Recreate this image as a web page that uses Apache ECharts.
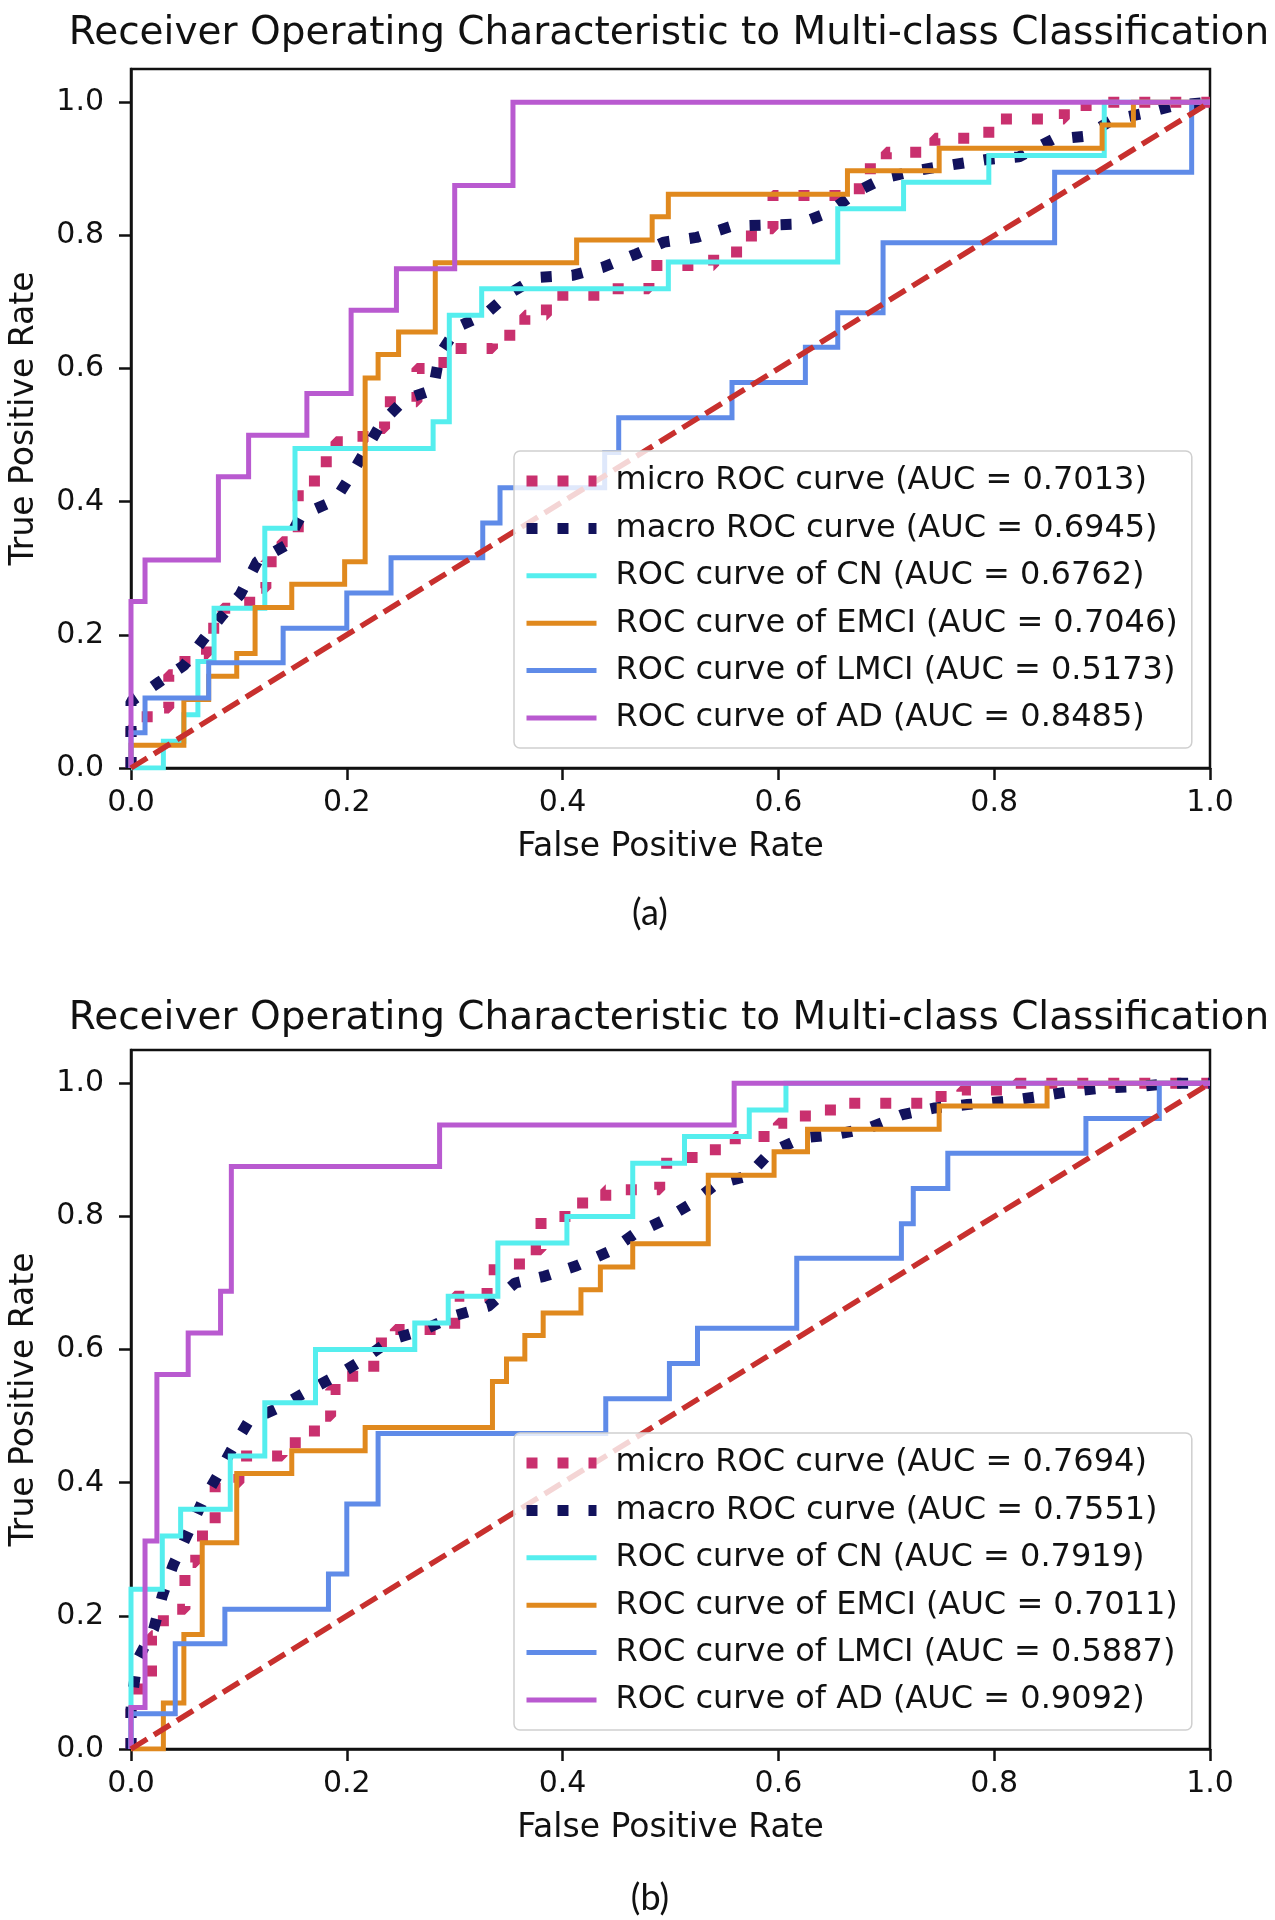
<!DOCTYPE html>
<html><head><meta charset="utf-8">
<script src="https://cdn.jsdelivr.net/npm/echarts@6/dist/echarts.min.js"></script>
<style>html,body{margin:0;padding:0;background:#fff}#c{width:1275px;height:1920px}</style>
</head><body><div id="c"></div>
<script>
// ---------- text ----------
const titleText = 'Receiver Operating Characteristic to Multi-class Classification';
const captions = ['(a)', '(b)'];
const xAxisName = 'False Positive Rate';
const yAxisName = 'True Positive Rate';
const tickValues = [0, 0.2, 0.4, 0.6, 0.8, 1.0];

// ---------- chart (a) ----------
const namesA = [
  'micro ROC curve (AUC = 0.7013)',
  'macro ROC curve (AUC = 0.6945)',
  'ROC curve of CN (AUC = 0.6762)',
  'ROC curve of EMCI (AUC = 0.7046)',
  'ROC curve of LMCI (AUC = 0.5173)',
  'ROC curve of AD (AUC = 0.8485)'
];
const microA = [[0,0],[0,0.06],[0.015,0.06],[0.015,0.09],[0.035,0.09],[0.035,0.14],[0.05,0.14],[0.05,0.17],[0.07,0.17],[0.07,0.21],[0.085,0.21],[0.085,0.24],[0.11,0.24],[0.11,0.27],[0.125,0.27],[0.125,0.31],[0.14,0.31],[0.14,0.34],[0.155,0.34],[0.155,0.42],[0.17,0.42],[0.17,0.46],[0.19,0.46],[0.19,0.49],[0.215,0.49],[0.215,0.51],[0.235,0.51],[0.235,0.55],[0.265,0.55],[0.265,0.6],[0.29,0.6],[0.29,0.63],[0.335,0.63],[0.335,0.65],[0.365,0.65],[0.365,0.68],[0.385,0.68],[0.385,0.71],[0.44,0.71],[0.44,0.72],[0.48,0.72],[0.48,0.755],[0.54,0.755],[0.54,0.775],[0.575,0.775],[0.575,0.81],[0.595,0.81],[0.595,0.86],[0.675,0.86],[0.675,0.9],[0.7,0.9],[0.7,0.925],[0.745,0.925],[0.745,0.946],[0.795,0.946],[0.795,0.975],[0.865,0.975],[0.865,0.995],[0.9,0.995],[0.9,1],[1,1]];
const macroA = [[0,0],[0,0.1],[0.026,0.129],[0.049,0.154],[0.067,0.193],[0.085,0.23],[0.101,0.26],[0.117,0.31],[0.143,0.334],[0.158,0.38],[0.189,0.402],[0.204,0.44],[0.232,0.518],[0.254,0.554],[0.28,0.568],[0.286,0.621],[0.303,0.663],[0.328,0.681],[0.35,0.712],[0.376,0.737],[0.409,0.74],[0.437,0.752],[0.468,0.772],[0.494,0.79],[0.524,0.797],[0.557,0.814],[0.618,0.817],[0.646,0.834],[0.673,0.866],[0.699,0.887],[0.73,0.898],[0.76,0.906],[0.793,0.914],[0.823,0.918],[0.854,0.944],[0.884,0.949],[0.91,0.974],[0.941,0.984],[0.969,0.996],[1,1]];
const cnA = [[0,0],[0.03,0],[0.03,0.04],[0.049,0.04],[0.049,0.08],[0.062,0.08],[0.062,0.16],[0.077,0.16],[0.077,0.24],[0.124,0.24],[0.124,0.36],[0.152,0.36],[0.152,0.48],[0.28,0.48],[0.28,0.52],[0.295,0.52],[0.295,0.68],[0.325,0.68],[0.325,0.72],[0.498,0.72],[0.498,0.76],[0.655,0.76],[0.655,0.84],[0.716,0.84],[0.716,0.88],[0.795,0.88],[0.795,0.92],[0.902,0.92],[0.902,1],[1,1]];
const emciA = [[0,0],[0,0.034],[0.049,0.034],[0.049,0.103],[0.072,0.103],[0.072,0.138],[0.098,0.138],[0.098,0.172],[0.115,0.172],[0.115,0.241],[0.149,0.241],[0.149,0.276],[0.198,0.276],[0.198,0.31],[0.217,0.31],[0.217,0.586],[0.229,0.586],[0.229,0.621],[0.248,0.621],[0.248,0.655],[0.282,0.655],[0.282,0.759],[0.413,0.759],[0.413,0.793],[0.483,0.793],[0.483,0.828],[0.498,0.828],[0.498,0.862],[0.664,0.862],[0.664,0.897],[0.749,0.897],[0.749,0.931],[0.9,0.931],[0.9,0.966],[0.929,0.966],[0.929,1],[1,1]];
const lmciA = [[0,0],[0,0.053],[0.013,0.053],[0.013,0.105],[0.072,0.105],[0.072,0.158],[0.141,0.158],[0.141,0.21],[0.2,0.21],[0.2,0.263],[0.241,0.263],[0.241,0.316],[0.326,0.316],[0.326,0.368],[0.342,0.368],[0.342,0.421],[0.439,0.421],[0.439,0.474],[0.452,0.474],[0.452,0.526],[0.557,0.526],[0.557,0.579],[0.625,0.579],[0.625,0.632],[0.655,0.632],[0.655,0.684],[0.697,0.684],[0.697,0.789],[0.856,0.789],[0.856,0.895],[0.983,0.895],[0.983,1],[1,1]];
const adA = [[0,0],[0,0.25],[0.013,0.25],[0.013,0.3125],[0.081,0.3125],[0.081,0.4375],[0.109,0.4375],[0.109,0.5],[0.163,0.5],[0.163,0.5625],[0.204,0.5625],[0.204,0.6875],[0.246,0.6875],[0.246,0.75],[0.3,0.75],[0.3,0.875],[0.354,0.875],[0.354,1],[1,1]];

// ---------- chart (b) ----------
const namesB = [
  'micro ROC curve (AUC = 0.7694)',
  'macro ROC curve (AUC = 0.7551)',
  'ROC curve of CN (AUC = 0.7919)',
  'ROC curve of EMCI (AUC = 0.7011)',
  'ROC curve of LMCI (AUC = 0.5887)',
  'ROC curve of AD (AUC = 0.9092)'
];
const microB = [[0,0],[0,0.06],[0.007,0.06],[0.007,0.1],[0.019,0.1],[0.019,0.17],[0.03,0.17],[0.03,0.21],[0.05,0.21],[0.05,0.28],[0.06,0.28],[0.06,0.32],[0.078,0.32],[0.078,0.4],[0.1,0.4],[0.1,0.44],[0.14,0.44],[0.14,0.46],[0.17,0.46],[0.17,0.5],[0.185,0.5],[0.185,0.54],[0.2,0.54],[0.2,0.56],[0.225,0.56],[0.225,0.61],[0.245,0.61],[0.245,0.63],[0.3,0.63],[0.3,0.68],[0.33,0.68],[0.33,0.72],[0.36,0.72],[0.36,0.75],[0.38,0.75],[0.38,0.8],[0.41,0.8],[0.41,0.82],[0.44,0.82],[0.44,0.84],[0.49,0.84],[0.49,0.88],[0.52,0.88],[0.52,0.9],[0.56,0.9],[0.56,0.92],[0.6,0.92],[0.6,0.94],[0.625,0.94],[0.625,0.96],[0.66,0.96],[0.66,0.97],[0.74,0.97],[0.74,0.98],[0.77,0.98],[0.77,0.99],[0.82,0.99],[0.82,1],[1,1]];
const macroB = [[0,0],[0,0.06],[0.002,0.088],[0.006,0.134],[0.021,0.18],[0.029,0.23],[0.039,0.276],[0.053,0.325],[0.066,0.371],[0.08,0.41],[0.093,0.449],[0.109,0.492],[0.137,0.513],[0.163,0.537],[0.192,0.562],[0.217,0.587],[0.241,0.615],[0.272,0.63],[0.3,0.651],[0.331,0.665],[0.356,0.7],[0.383,0.71],[0.413,0.726],[0.444,0.748],[0.466,0.773],[0.492,0.793],[0.518,0.818],[0.542,0.848],[0.572,0.861],[0.592,0.896],[0.622,0.918],[0.653,0.923],[0.684,0.933],[0.715,0.953],[0.745,0.963],[0.775,0.968],[0.81,0.973],[0.841,0.98],[0.872,0.988],[0.902,0.993],[0.932,0.995],[0.965,1],[1,1]];
const cnB = [[0,0],[0,0.24],[0.029,0.24],[0.029,0.32],[0.046,0.32],[0.046,0.36],[0.092,0.36],[0.092,0.44],[0.124,0.44],[0.124,0.52],[0.171,0.52],[0.171,0.6],[0.263,0.6],[0.263,0.64],[0.294,0.64],[0.294,0.68],[0.34,0.68],[0.34,0.76],[0.404,0.76],[0.404,0.8],[0.465,0.8],[0.465,0.88],[0.513,0.88],[0.513,0.92],[0.573,0.92],[0.573,0.96],[0.607,0.96],[0.607,1],[1,1]];
const emciB = [[0,0],[0.03,0],[0.03,0.069],[0.049,0.069],[0.049,0.172],[0.066,0.172],[0.066,0.31],[0.098,0.31],[0.098,0.414],[0.149,0.414],[0.149,0.448],[0.217,0.448],[0.217,0.483],[0.335,0.483],[0.335,0.552],[0.348,0.552],[0.348,0.586],[0.365,0.586],[0.365,0.621],[0.382,0.621],[0.382,0.655],[0.417,0.655],[0.417,0.69],[0.435,0.69],[0.435,0.724],[0.465,0.724],[0.465,0.759],[0.535,0.759],[0.535,0.862],[0.596,0.862],[0.596,0.897],[0.627,0.897],[0.627,0.931],[0.749,0.931],[0.749,0.966],[0.849,0.966],[0.849,1],[1,1]];
const lmciB = [[0,0],[0,0.053],[0.041,0.053],[0.041,0.158],[0.087,0.158],[0.087,0.21],[0.183,0.21],[0.183,0.263],[0.2,0.263],[0.2,0.368],[0.229,0.368],[0.229,0.474],[0.44,0.474],[0.44,0.526],[0.499,0.526],[0.499,0.579],[0.525,0.579],[0.525,0.632],[0.617,0.632],[0.617,0.737],[0.714,0.737],[0.714,0.789],[0.725,0.789],[0.725,0.842],[0.757,0.842],[0.757,0.895],[0.885,0.895],[0.885,0.947],[0.953,0.947],[0.953,1],[1,1]];
const adB = [[0,0],[0,0.0625],[0.013,0.0625],[0.013,0.3125],[0.024,0.3125],[0.024,0.5625],[0.053,0.5625],[0.053,0.625],[0.083,0.625],[0.083,0.6875],[0.093,0.6875],[0.093,0.875],[0.286,0.875],[0.286,0.9375],[0.559,0.9375],[0.559,1],[1,1]];

const chance = [[0,0],[1,1]];

// ---------- styles ----------
const colors = ['#C9306E', '#12125C', '#55EEEE', '#E0891E', '#5F8BE8', '#B95AD0'];
const chanceColor = '#C8302E';
const FONT = 'DejaVu Sans';
const ink = '#111111';

const grids = [
  {left: 129, right: 65, top: 69, height: 699},
  {left: 129, right: 65, top: 1050, height: 699}
];

function lineSeries(name, data, idx, k) {
  const dotted = k < 2;
  return {
    type: 'line', name: name, data: data, xAxisIndex: idx, yAxisIndex: idx,
    symbol: 'none', showSymbol: false, smooth: false, animation: false,
    lineStyle: dotted
      ? {color: colors[k], width: 11, type: [11, 20], cap: 'butt'}
      : {color: colors[k], width: 5, type: 'solid', cap: 'butt', join: 'miter'},
    itemStyle: {color: colors[k]},
    emphasis: {disabled: true},
    z: 2
  };
}

const series = [];
[[namesA, [microA, macroA, cnA, emciA, lmciA, adA]], [namesB, [microB, macroB, cnB, emciB, lmciB, adB]]]
  .forEach(([names, sets], idx) => {
    sets.forEach((d, k) => series.push(lineSeries(names[k], d, idx, k)));
    series.push({
      type: 'line', name: 'chance ' + idx, data: chance, xAxisIndex: idx, yAxisIndex: idx,
      symbol: 'none', animation: false, emphasis: {disabled: true},
      lineStyle: {color: chanceColor, width: 5.5, type: [19, 8]}, z: 3
    });
  });

function xAxis(idx) {
  return {
    type: 'value', gridIndex: idx, min: 0, max: 1, interval: 0.2,
    name: xAxisName, nameLocation: 'middle', nameGap: 63,
    nameTextStyle: {fontFamily: FONT, fontSize: 33, color: ink},
    axisLine: {show: true, onZero: false, lineStyle: {color: ink, width: 2.5}},
    axisTick: {show: true, length: 12, lineStyle: {color: ink, width: 2.5}, customValues: tickValues},
    axisLabel: {show: true, margin: 20, fontFamily: FONT, fontSize: 30, color: ink,
      customValues: tickValues, formatter: v => Number(v).toFixed(1)},
    splitLine: {show: false}
  };
}
function yAxis(idx) {
  return {
    type: 'value', gridIndex: idx, min: 0, max: 1.05, interval: 0.2,
    name: yAxisName, nameLocation: 'middle', nameGap: 90, nameRotate: 90,
    nameTextStyle: {fontFamily: FONT, fontSize: 33, color: ink},
    axisLine: {show: true, onZero: false, lineStyle: {color: ink, width: 2.5}},
    axisTick: {show: true, length: 12, lineStyle: {color: ink, width: 2.5}, customValues: tickValues},
    axisLabel: {show: true, margin: 27, fontFamily: FONT, fontSize: 30, color: ink,
      customValues: tickValues, formatter: v => Number(v).toFixed(1)},
    splitLine: {show: false}
  };
}

function legend(idx, names) {
  return {
    data: names, orient: 'vertical', left: 514, top: idx === 0 ? 451 : 1433,
    itemWidth: 70, itemHeight: 14, itemGap: 13.4, padding: [13, 14, 13, 7],
    backgroundColor: 'rgba(255,255,255,0.8)', borderColor: '#cfcfcf', borderWidth: 1.5, borderRadius: 6,
    selectedMode: false,
    itemStyle: {opacity: 0},
    lineStyle: {width: 'inherit', type: 'inherit', color: 'inherit', cap: 'butt'},
    textStyle: {fontFamily: FONT, fontSize: 32, color: ink, lineHeight: 34, padding: [0, 0, 0, 14]}
  };
}

const titleFont = '39px "DejaVu Sans"';
const capFont = '36px Lato';
const graphic = [
  {type: 'text', x: 669, y: 34, style: {text: titleText, font: titleFont, fill: ink, textAlign: 'center', textVerticalAlign: 'middle'}},
  {type: 'text', x: 669, y: 1019, style: {text: titleText, font: titleFont, fill: ink, textAlign: 'center', textVerticalAlign: 'middle'}},
  {type: 'text', x: 650, y: 913, style: {text: captions[0], font: capFont, fill: ink, textAlign: 'center', textVerticalAlign: 'middle'}},
  {type: 'text', x: 650, y: 1898, style: {text: captions[1], font: capFont, fill: ink, textAlign: 'center', textVerticalAlign: 'middle'}}
];

const chart = echarts.init(document.getElementById('c'), null, {renderer: 'canvas'});
chart.setOption({
  backgroundColor: '#ffffff',
  animation: false,
  grid: grids.map(g => Object.assign({show: true, borderColor: ink, borderWidth: 2.5, backgroundColor: 'transparent', containLabel: false}, g)),
  xAxis: [xAxis(0), xAxis(1)],
  yAxis: [yAxis(0), yAxis(1)],
  legend: [legend(0, namesA), legend(1, namesB)],
  series: series,
  graphic: graphic
});
</script></body></html>
